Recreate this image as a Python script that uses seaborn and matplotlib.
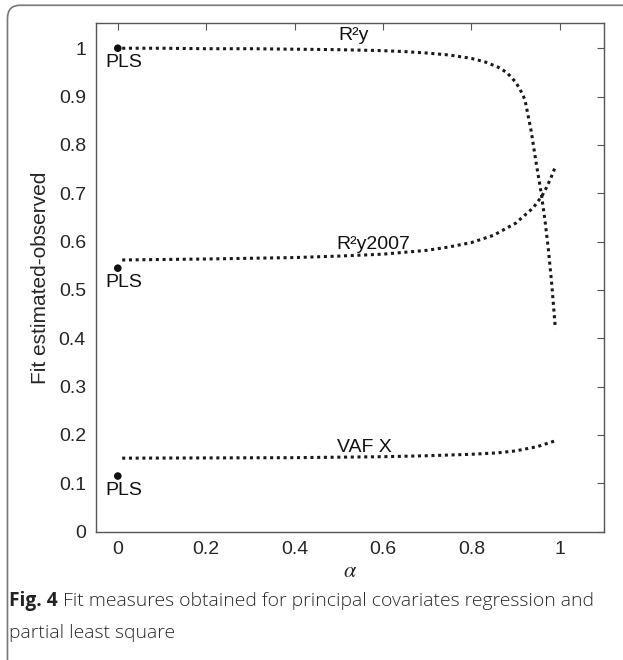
import matplotlib
matplotlib.use('Agg')
import matplotlib.pyplot as plt
from matplotlib.patches import FancyBboxPatch
import seaborn as sns
import pandas as pd

# curve data
r2y_alpha = [0.01, 0.1, 0.2, 0.3, 0.4, 0.5, 0.6, 0.65, 0.7, 0.75, 0.8, 0.83, 0.86,
             0.88, 0.9, 0.91, 0.921, 0.935, 0.947, 0.958, 0.967, 0.974, 0.982, 0.99]
r2y_fit = [1.0, 1.0, 0.999, 0.999, 0.998, 0.997, 0.995, 0.993, 0.99, 0.986, 0.979,
           0.972, 0.961, 0.95, 0.93, 0.915, 0.894, 0.83, 0.76, 0.70, 0.64, 0.585,
           0.51, 0.42]

r2y2007_alpha = [0.01, 0.2, 0.4, 0.5, 0.6, 0.7, 0.75, 0.8, 0.85, 0.9, 0.94, 0.96,
                 0.97, 0.98, 0.99]
r2y2007_fit = [0.562, 0.564, 0.567, 0.57, 0.574, 0.582, 0.589, 0.598, 0.613, 0.638,
               0.67, 0.695, 0.712, 0.732, 0.755]

vaf_alpha = [0.01, 0.4, 0.6, 0.7, 0.8, 0.86, 0.9, 0.95, 0.99]
vaf_fit = [0.152, 0.153, 0.155, 0.157, 0.16, 0.163, 0.167, 0.176, 0.188]

pls_alpha = [0, 0, 0]
pls_fit = [1.0, 0.545, 0.115]

curve_names = ['R²y', 'R²y2007', 'VAF X']
curve_label_pos = [(0.533, 1.018), (0.578, 0.584), (0.559, 0.165)]

curves = pd.concat([
    pd.DataFrame({'alpha': r2y_alpha, 'fit': r2y_fit, 'measure': 'R²y'}),
    pd.DataFrame({'alpha': r2y2007_alpha, 'fit': r2y2007_fit, 'measure': 'R²y2007'}),
    pd.DataFrame({'alpha': vaf_alpha, 'fit': vaf_fit, 'measure': 'VAF X'}),
])
pls = pd.DataFrame({'alpha': pls_alpha, 'fit': pls_fit})

sns.set_style('white')
plt.rcParams['font.family'] = ['Liberation Sans', 'DejaVu Sans']
plt.rcParams['mathtext.fontset'] = 'stix'

fig = plt.figure(figsize=(6.23, 6.6), dpi=100)
ax = fig.add_axes([0.1536, 0.1945, 0.8159, 0.7705])

for name in curve_names:
    sns.lineplot(data=curves[curves['measure'] == name], x='alpha', y='fit',
                 color='#1a1a1a', linestyle=(0, (1, 1.2)), linewidth=2.2,
                 ax=ax, sort=False, legend=False)
sns.scatterplot(data=pls, x='alpha', y='fit', color='#111111', s=30,
                edgecolor='none', ax=ax, legend=False, zorder=5)

for name, (tx, ty) in zip(curve_names, curve_label_pos):
    ax.text(tx, ty, name, fontsize=14, ha='center', va='baseline', color='#111111')
for y in pls_fit:
    ax.text(-0.027, y - 0.012, 'PLS', fontsize=14, ha='left', va='top', color='#111111')

ax.set_xlim(-0.05, 1.1)
ax.set_ylim(0, 1.052)
ax.set_xticks([0, 0.2, 0.4, 0.6, 0.8, 1])
ax.set_xticklabels(['0', '0.2', '0.4', '0.6', '0.8', '1'])
ax.set_yticks([i / 10 for i in range(11)])
ax.set_yticklabels(['0'] + [f'0.{i}' for i in range(1, 10)] + ['1'])
ax.tick_params(direction='in', length=5, width=0.8, color='#555555',
               labelsize=14, top=True, right=True, pad=7)
for sp in ax.spines.values():
    sp.set_color('#555555')
    sp.set_linewidth(1.0)

ax.set_xlabel(r'$\alpha$', fontsize=16, labelpad=2)
ax.set_ylabel('Fit estimated-observed', fontsize=15, labelpad=6)

# caption with rounded frame
frame = FancyBboxPatch((0.012, -0.05), 1.2, 1.042, boxstyle='round,pad=0,rounding_size=0.02',
                       transform=fig.transFigure, fill=False, edgecolor='#777777',
                       linewidth=1.2, clip_on=False)
fig.patches.append(frame)
cap_font = ['Open Sans', 'DejaVu Sans']
fig.text(0.014, 0.0815, 'Fig. 4', fontsize=13.8, fontweight='bold',
         family=cap_font, color='#222222')
fig.text(0.101, 0.0815, 'Fit measures obtained for principal covariates regression and',
         fontsize=13.95, fontweight='light', family=cap_font, color='#2a2a2a')
fig.text(0.014, 0.034, 'partial least square', fontsize=13.95, fontweight='light',
         family=cap_font, color='#2a2a2a')

fig.savefig('out.png', dpi=100)
